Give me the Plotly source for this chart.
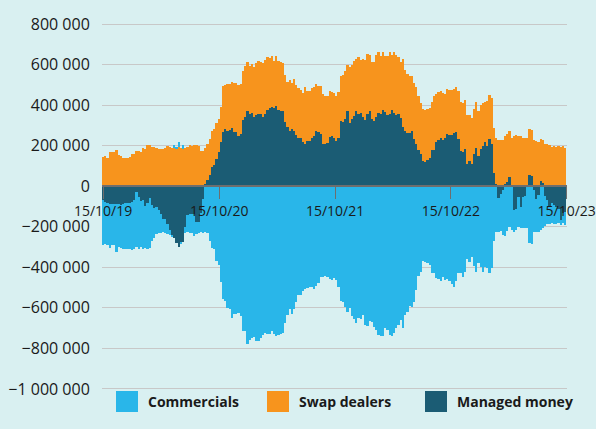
import pandas as pd
import plotly.graph_objects as go

# Weekly positions, thousands of contracts
weeks = pd.date_range("2019-10-15", periods=209, freq="7D")

swap_dealers = [
    144, 148, 141, 167, 167, 167, 177, 152, 148, 141, 138, 141, 144, 157, 161, 172,
    172, 169, 190, 185, 202, 202, 192, 192, 188, 184, 182, 182, 188, 197, 193, 190,
    190, 188, 193, 190, 182, 190, 193, 202, 197, 205, 202, 197, 174, 172, 177, 180,
    177, 180, 182, 177, 164, 175, 223, 216, 230, 226, 225, 244, 244, 254, 246, 242,
    251, 246, 238, 242, 249, 254, 263, 258, 264, 266, 262, 248, 251, 233, 246, 239,
    241, 239, 235, 221, 249, 226, 257, 249, 244, 238, 241, 278, 251, 251, 246, 241,
    230, 230, 241, 246, 234, 234, 229, 221, 220, 221, 228, 226, 233, 237, 231, 274,
    267, 267, 259, 279, 263, 287, 296, 295, 278, 282, 294, 308, 299, 287, 287, 279,
    290, 304, 275, 303, 295, 279, 273, 336, 300, 290, 284, 271, 276, 278, 267, 249,
    257, 254, 251, 246, 238, 267, 238, 235, 233, 230, 217, 221, 224, 224, 218, 225,
    238, 241, 241, 243, 243, 231, 228, 222, 228, 222, 218, 213, 200, 223, 221, 224,
    222, 226, 226, 226, 226, 233, 235, 229, 239, 246, 251, 249, 246, 236, 236, 236,
    230, 230, 226, 221, 216, 209, 213, 210, 207, 205, 193, 197, 193, 197, 193, 197,
    188,
]

managed_money = [
    -69, -77, -85, -89, -89, -89, -89, -89, -90, -89, -85, -82, -85, -77, -69, -30,
    -52, -72, -66, -97, -85, -57, -93, -105, -102, -115, -138, -161, -162, -188, -216, -244,
    -257, -279, -298, -279, -277, -200, -143, -138, -138, -138, -175, -175, -134, -61, 13, 30,
    54, 95, 103, 134, 169, 218, 270, 284, 275, 279, 288, 266, 266, 246, 259, 328,
    344, 369, 357, 361, 341, 352, 357, 357, 344, 357, 374, 385, 393, 387, 398, 377,
    370, 369, 316, 292, 275, 284, 272, 251, 239, 239, 218, 210, 221, 221, 239, 247,
    275, 267, 256, 210, 210, 213, 243, 246, 239, 223, 239, 320, 316, 333, 369, 313,
    333, 349, 369, 357, 361, 341, 328, 357, 369, 333, 321, 341, 362, 357, 377, 365,
    354, 357, 374, 361, 354, 357, 338, 292, 275, 264, 262, 275, 234, 210, 177, 161,
    125, 120, 128, 141, 177, 180, 218, 229, 239, 229, 239, 259, 251, 251, 262, 267,
    234, 174, 169, 185, 111, 123, 108, 157, 190, 148, 185, 197, 218, 197, 231, 210,
    66, 13, -56, -39, -16, 13, 21, 46, -3, -115, -110, -52, -102, -52, -49, 0,
    54, 49, -16, -61, -44, 25, 16, -49, -69, -98, -85, -93, -102, -110, -167, -134,
    -126,
]

commercials = [
    -221, -208, -203, -215, -201, -201, -234, -210, -216, -223, -226, -229, -226, -236, -243, -269,
    -256, -230, -246, -208, -223, -247, -175, -152, -134, -116, -92, -64, -69, -48, -25, -5,
    16, 5, 23, -3, 23, -33, -82, -92, -95, -105, -62, -57, -92, -169, -225, -233,
    -269, -303, -308, -367, -388, -470, -557, -564, -601, -606, -651, -631, -631, -626, -642, -716,
    -716, -777, -760, -749, -744, -765, -765, -749, -733, -724, -728, -728, -716, -729, -741, -733,
    -728, -724, -675, -634, -606, -631, -606, -569, -539, -539, -515, -508, -503, -498, -498, -506,
    -490, -479, -446, -449, -443, -446, -459, -462, -454, -462, -495, -564, -572, -597, -618, -601,
    -642, -656, -675, -651, -656, -634, -683, -688, -667, -672, -692, -708, -733, -738, -741, -700,
    -708, -733, -738, -724, -700, -683, -659, -700, -634, -618, -593, -598, -569, -511, -443, -421,
    -367, -372, -380, -388, -429, -426, -454, -459, -465, -446, -462, -459, -465, -482, -495, -465,
    -426, -429, -446, -421, -361, -372, -351, -393, -421, -377, -397, -421, -397, -405, -426, -405,
    -269, -225, -169, -182, -225, -244, -220, -200, -213, -113, -107, -151, -103, -152, -159, -208,
    -282, -287, -208, -164, -180, -216, -208, -148, -115, -90, -95, -95, -82, -70, -25, -49,
    -66,
]

tick_dates = ["2019-10-15", "2020-10-15", "2021-10-15", "2022-10-15", "2023-10-15"]
tick_labels = ["15/10/19", "15/10/20", "15/10/21", "15/10/22", "15/10/23"]

y_ticks = [800000, 600000, 400000, 200000, 0, -200000, -400000, -600000, -800000, -1000000]
y_labels = ["800 000", "600 000", "400 000", "200 000", "0", "\u2212200 000", "\u2212400 000",
            "\u2212600 000", "\u2212800 000", "\u22121 000 000"]

series_names = ["Commercials", "Swap dealers", "Managed money"]
series_colors = ["#29B6E9", "#F7941D", "#1B5C74"]

BG = "#D9F0F1"
y_min, y_max = -1030000, 850000
L, R, T, B = 102, 29, 14, 34
W, H = 596, 429
plot_w, plot_h = W - L - R, H - T - B

fig = go.Figure()
# stacking order: managed money next to zero, swap dealers above it, commercials last
for name, vals in [("Managed money", managed_money), ("Swap dealers", swap_dealers),
                   ("Commercials", commercials)]:
    fig.add_trace(go.Bar(
        x=weeks, y=[v * 1000 for v in vals], name=name,
        marker=dict(color=series_colors[series_names.index(name)], line=dict(width=0)),
        showlegend=False,
    ))

# legend drawn by hand: large swatches at the bottom edge like the original
legend_x = [116, 267, 425]
for name, color, px in zip(series_names, series_colors, legend_x):
    fig.add_shape(type="rect", xref="paper", yref="paper",
                  x0=(px - L) / plot_w, x1=(px + 22 - L) / plot_w,
                  y0=(H - T - 432) / plot_h, y1=(H - T - 411) / plot_h,
                  fillcolor=color, line=dict(width=0), layer="above")
    fig.add_annotation(text="<b>" + name + "</b>", xref="paper", yref="paper",
                       x=(px + 30 - L) / plot_w, y=(H - T - 421) / plot_h,
                       xanchor="left", yanchor="middle", showarrow=False,
                       font=dict(size=14, color="#1A1A1A"))

fig.update_layout(
    barmode="relative",
    bargap=0,
    width=W,
    height=H,
    margin=dict(l=L, r=R, t=T, b=B, autoexpand=False),
    paper_bgcolor=BG,
    plot_bgcolor=BG,
    font=dict(family="Open Sans", size=15, color="#1A1A1A"),
    showlegend=False,
    xaxis=dict(
        type="date",
        range=[pd.Timestamp("2019-10-11 12:00"), pd.Timestamp("2023-10-16")],
        tickvals=tick_dates,
        ticktext=tick_labels,
        anchor="free",
        position=(0 - y_min) / (y_max - y_min),
        showline=True, linecolor="#6E6E6E", linewidth=1.5,
        ticks="outside", ticklen=12, tickwidth=1, tickcolor="#6E6E6E",
        ticklabeloverflow="allow",
        showgrid=False,
        tickfont=dict(size=14, color="#1A1A1A"),
    ),
    yaxis=dict(
        range=[y_min, y_max],
        tickvals=y_ticks,
        ticktext=y_labels,
        showgrid=True, gridcolor="#C8C8C8", gridwidth=1.2,
        zeroline=False,
        ticks="outside", ticklen=8, tickcolor="rgba(0,0,0,0)",
        tickfont=dict(size=16, color="#1A1A1A"),
    ),
)

# drop the default page margin so the figure sits at the window's corner
fig.write_html(
    "out.html",
    config={"displayModeBar": False},
    post_script="document.body.style.margin='0';document.body.style.overflow='hidden';"
                "document.body.style.background='" + BG + "';",
)
